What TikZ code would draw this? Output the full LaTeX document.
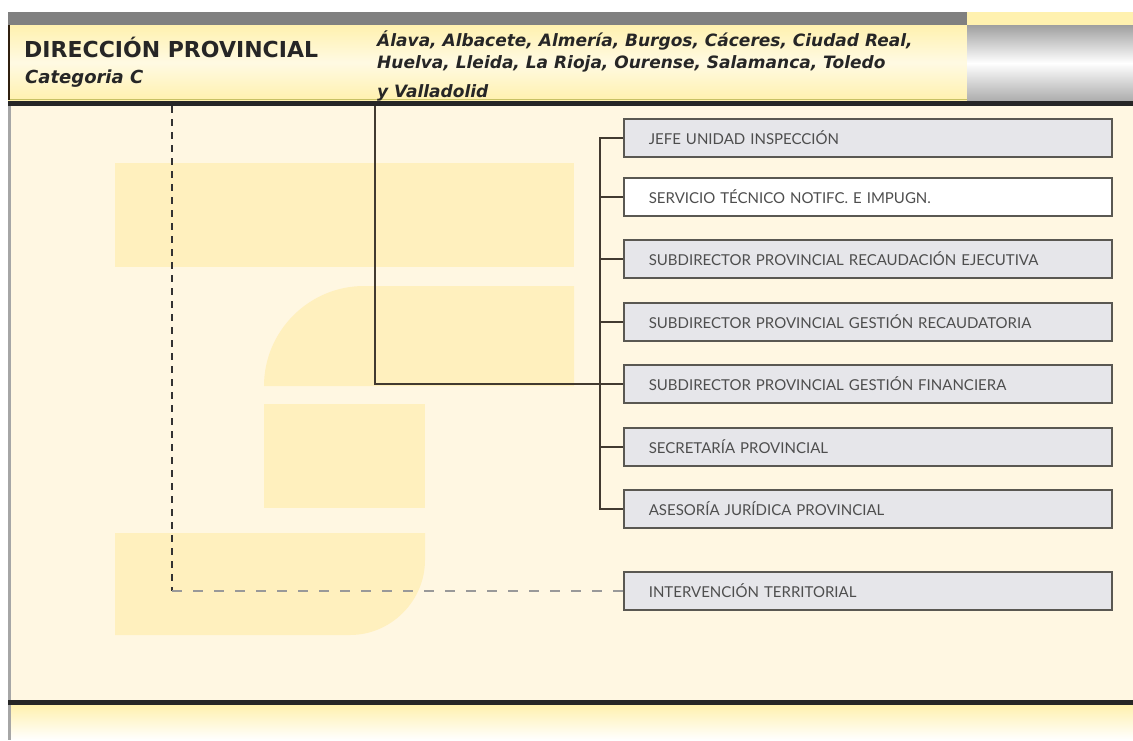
\documentclass[tikz,border=0pt]{standalone}
\usepackage{fontspec}
\setmainfont{Lato}
\newfontfamily\hdrfont{DejaVu Sans}
\usetikzlibrary{positioning,calc}

\definecolor{cream}{RGB}{255,247,226}
\definecolor{wmark}{RGB}{255,240,190}
\definecolor{hdryel}{RGB}{255,241,175}
\definecolor{bargray}{RGB}{128,128,128}
\definecolor{linebrown}{RGB}{66,58,48}
\definecolor{boxgray}{RGB}{230,230,234}
\definecolor{boxedge}{RGB}{90,88,82}
\definecolor{txtgray}{RGB}{78,78,78}

\tikzset{
  unitbox/.style={draw=boxedge, line width=1.6pt, fill=boxgray,
    minimum height=38pt, text width=438pt, inner xsep=25pt, inner ysep=0pt,
    align=left, anchor=west, text=txtgray,
    font=\fontsize{15}{17}\selectfont},
  link/.style={draw=linebrown, line width=1.3pt},
  dashlink/.style={line width=1.3pt, dash pattern=on 7pt off 6pt},
  hdrtext/.style={anchor=base west, text=black!85, inner sep=0pt},
  citytext/.style={hdrtext, font=\hdrfont\bfseries\itshape\fontsize{17}{20}\selectfont},
  wshape/.style={fill=wmark},
}

\begin{document}
\begin{tikzpicture}[x=1pt,y=-1pt]
\useasboundingbox (0,0) rectangle (1133,740);

%header
\fill[bargray] (8,12) rectangle (967,25);
\fill[hdryel] (967,12) rectangle (1133,25);
\shade[top color=hdryel, bottom color=hdryel, middle color=hdryel!35!white] (8,25) rectangle (967,100);
\shade[top color=gray!75, bottom color=gray!65, middle color=white] (967,25) rectangle (1133,101);
\draw[olive!50, line width=1pt] (8,99) -- (967,99);
\draw[black!75!brown, line width=1.5pt] (8.75,25) -- (8.75,100);

%main area
\fill[cream] (8,106) rectangle (1133,700);
\fill[gray!70] (8,106) rectangle (11,740);
\fill[black!85] (8,100.5) rectangle (1133,106);% header line
\fill[black!85] (8,699.5) rectangle (1133,705);% bottom line
\shade[top color=hdryel, bottom color=white] (11,705) rectangle (1133,740);

%watermark
\fill[wshape] (115,163) rectangle (574,267);
\fill[wshape] (264,386) .. controls (264,331) and (309,286) .. (364,286)
  -- (574,286) -- (574,386) -- cycle;
\fill[wshape] (264,404) rectangle (425,508);
\fill[wshape] (115,533) -- (425,533) -- (425,560)
  .. controls (425,601) and (391,635) .. (350,635) -- (115,635) -- cycle;

%titles
\node[hdrtext, font=\hdrfont\bfseries\fontsize{22}{24}\selectfont] (dirprov) at (24,57) {DIRECCIÓN PROVINCIAL};
\node[hdrtext, font=\hdrfont\bfseries\itshape\fontsize{18}{20}\selectfont] (categ) at (25,83) {Categoria C};
\node[citytext] (citiesA) at (377,46) {Álava, Albacete, Almería, Burgos, Cáceres, Ciudad Real,};
\node[citytext] (citiesB) at (377,68) {Huelva, Lleida, La Rioja, Ourense, Salamanca, Toledo};
\node[citytext] (citiesC) at (377,97) {y Valladolid};

%units
\node[unitbox] (jefe) at (623,138) {JEFE UNIDAD INSPECCIÓN};
\node[unitbox, fill=white] (servicio) at (623,197) {SERVICIO TÉCNICO NOTIFC. E IMPUGN.};
\node[unitbox] (recejec) at (623,259) {SUBDIRECTOR PROVINCIAL RECAUDACIÓN EJECUTIVA};
\node[unitbox] (gestrec) at (623,322) {SUBDIRECTOR PROVINCIAL GESTIÓN RECAUDATORIA};
\node[unitbox] (gestfin) at (623,384) {SUBDIRECTOR PROVINCIAL GESTIÓN FINANCIERA};
\node[unitbox] (secret) at (623,447) {SECRETARÍA PROVINCIAL};
\node[unitbox] (asesoria) at (623,509) {ASESORÍA JURÍDICA PROVINCIAL};
\node[unitbox] (interv) at (623,591) {INTERVENCIÓN TERRITORIAL};

%lines
\coordinate (stemtop) at (375,106);
\coordinate (bus) at (600,138);
\coordinate (dashtop) at (172,106);
\draw[link] (jefe.west) -- (bus) |- (asesoria.west);
\foreach \u in {servicio,recejec,gestrec,secret}
  \draw[link] (\u.west) -- (\u.west -| bus);
\draw[link] (stemtop) |- (gestfin.west);
\draw[dashlink, black!80] (dashtop) -- (dashtop |- interv.west);
\draw[dashlink, gray!80, dash pattern=on 10pt off 11pt] (dashtop |- interv.west) -- (interv.west);

\end{tikzpicture}
\end{document}
